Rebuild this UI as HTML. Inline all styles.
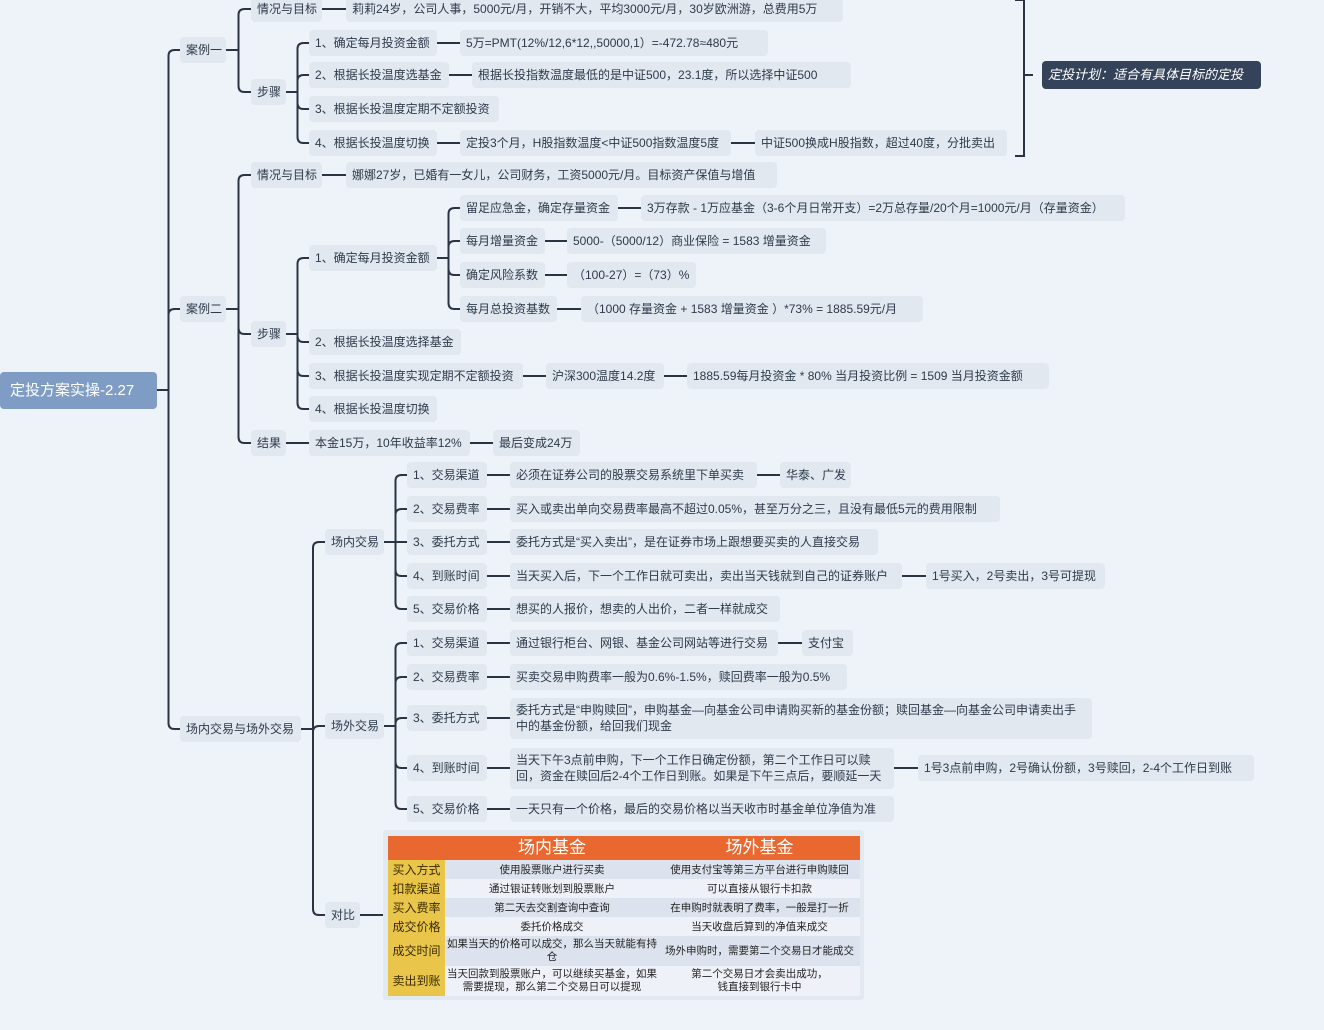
<!DOCTYPE html>
<html><head><meta charset="utf-8">
<style>
html,body{margin:0;padding:0;}
body{width:1324px;height:1030px;background:#edf3f9;position:relative;overflow:hidden;font-family:"Liberation Sans","Noto Sans CJK SC",sans-serif;}
.n{position:absolute;height:26px;line-height:26px;background:#e1e8f0;border-radius:4px;font-size:12px;color:#2d3a4a;white-space:nowrap;box-sizing:border-box;padding:0 6px;}
.m{height:auto;line-height:16px;white-space:normal;padding:4px 6px;}
svg{position:absolute;left:0;top:0;}
table{border-collapse:collapse;}
td{padding:0 2px;}
</style></head><body>
<svg id="s" width="1324" height="1030"></svg>
<div id="root"></div>
<div class="n" style="left:1042px;top:61px;height:28px;line-height:28px;width:219px;background:#34425a;color:#fff;font-style:italic;font-size:13px;">定投计划：适合有具体目标的定投</div>
<div style="position:absolute;left:383px;top:830px;width:481px;height:170px;background:#e3e9f1;border-radius:3px;"></div>
<div style="position:absolute;left:388px;top:836px;width:472px;">
<table style="width:472px;font-size:10.5px;color:#222;text-align:center;table-layout:fixed;">
<tr style="background:#e8682f;color:#fff;font-size:17px;height:24px;line-height:22px;"><td style="width:53px;"></td><td style="width:210px;">场内基金</td><td>场外基金</td></tr>
<tr style="height:19px;background:#dde3ee"><td style="background:#e9c64a;color:#3a2a00;font-size:12px;">买入方式</td><td>使用股票账户进行买卖</td><td>使用支付宝等第三方平台进行申购赎回</td></tr>
<tr style="height:19px;background:#eef1f7"><td style="background:#e9c64a;color:#3a2a00;font-size:12px;">扣款渠道</td><td>通过银证转账划到股票账户</td><td>可以直接从银行卡扣款</td></tr>
<tr style="height:19px;background:#dde3ee"><td style="background:#e9c64a;color:#3a2a00;font-size:12px;">买入费率</td><td>第二天去交割查询中查询</td><td>在申购时就表明了费率，一般是打一折</td></tr>
<tr style="height:19px;background:#eef1f7"><td style="background:#e9c64a;color:#3a2a00;font-size:12px;">成交价格</td><td>委托价格成交</td><td>当天收盘后算到的净值来成交</td></tr>
<tr style="height:30px;background:#dde3ee;line-height:13px"><td style="background:#e9c64a;color:#3a2a00;font-size:12px;">成交时间</td><td>如果当天的价格可以成交，那么当天就能有持仓</td><td>场外申购时，需要第二个交易日才能成交</td></tr>
<tr style="height:30px;background:#eef1f7;line-height:13px"><td style="background:#e9c64a;color:#3a2a00;font-size:12px;">卖出到账</td><td>当天回款到股票账户，可以继续买基金，如果需要提现，那么第二个交易日可以提现</td><td>第二个交易日才会卖出成功，<br>钱直接到银行卡中</td></tr>
</table></div>
<script>
var N=[
['r',null,0,157,390,'定投方案实操-2.27',37],
['a1','r',180,46,50,'案例一'],
['a1q','a1',251,71,9,'情况与目标'],
['a1qt','a1q',346,497,9,'莉莉24岁，公司人事，5000元/月，开销不大，平均3000元/月，30岁欧洲游，总费用5万'],
['a1s','a1',251,35,92,'步骤'],
['s1','a1s',309,128,43,'1、确定每月投资金额'],
['s1t','s1',460,308,43,'5万=PMT(12%/12,6*12,,50000,1）=-472.78≈480元'],
['s2','a1s',309,140,75,'2、根据长投温度选基金'],
['s2t','s2',472,379,75,'根据长投指数温度最低的是中证500，23.1度，所以选择中证500'],
['s3','a1s',309,190,109,'3、根据长投温度定期不定额投资'],
['s4','a1s',309,128,143,'4、根据长投温度切换'],
['s4t','s4',460,271,143,'定投3个月，H股指数温度<中证500指数温度5度'],
['s4u','s4t',755,252,143,'中证500换成H股指数，超过40度，分批卖出'],
['a2','r',180,46,309,'案例二'],
['a2q','a2',251,71,175,'情况与目标'],
['a2qt','a2q',346,431,175,'娜娜27岁，已婚有一女儿，公司财务，工资5000元/月。目标资产保值与增值'],
['a2s','a2',251,35,334,'步骤'],
['b1','a2s',309,128,258,'1、确定每月投资金额'],
['c1','b1',460,158,208,'留足应急金，确定存量资金'],
['c1t','c1',641,484,208,'3万存款 - 1万应基金（3-6个月日常开支）=2万总存量/20个月=1000元/月（存量资金）'],
['c2','b1',460,85,241,'每月增量资金'],
['c2t','c2',567,259,241,'5000-（5000/12）商业保险 = 1583 增量资金'],
['c3','b1',460,85,275,'确定风险系数'],
['c3t','c3',567,129,275,' （100-27）=（73）%'],
['c4','b1',460,97,309,'每月总投资基数'],
['c4t','c4',581,342,309,' （1000 存量资金 + 1583 增量资金 ）*73% = 1885.59元/月'],
['b2','a2s',309,152,342,'2、根据长投温度选择基金'],
['b3','a2s',309,214,376,'3、根据长投温度实现定期不定额投资'],
['b3t','b3',546,118,376,'沪深300温度14.2度'],
['b3u','b3t',687,362,376,'1885.59每月投资金 * 80% 当月投资比例 = 1509 当月投资金额'],
['b4','a2s',309,128,409,'4、根据长投温度切换'],
['a2r','a2',251,35,443,'结果'],
['a2rt','a2r',309,161,443,'本金15万，10年收益率12%'],
['a2ru','a2rt',493,87,443,'最后变成24万'],
['a3','r',180,121,729,'场内交易与场外交易'],
['in','a3',325,59,542,'场内交易'],
['i1','in',407,80,475,'1、交易渠道'],
['i1t','i1',510,247,475,'必须在证券公司的股票交易系统里下单买卖'],
['i1u','i1t',780,71,475,'华泰、广发'],
['i2','in',407,80,509,'2、交易费率'],
['i2t','i2',510,490,509,'买入或卖出单向交易费率最高不超过0.05%，甚至万分之三，且没有最低5元的费用限制'],
['i3','in',407,80,542,'3、委托方式'],
['i3t','i3',510,368,542,'委托方式是“买入卖出”，是在证券市场上跟想要买卖的人直接交易'],
['i4','in',407,80,576,'4、到账时间'],
['i4t','i4',510,392,576,'当天买入后，下一个工作日就可卖出，卖出当天钱就到自己的证券账户'],
['i4u','i4t',926,179,576,'1号买入，2号卖出，3号可提现'],
['i5','in',407,80,609,'5、交易价格'],
['i5t','i5',510,270,609,'想买的人报价，想卖的人出价，二者一样就成交'],
['out','a3',325,59,726,'场外交易'],
['o1','out',407,80,643,'1、交易渠道'],
['o1t','o1',510,268,643,'通过银行柜台、网银、基金公司网站等进行交易'],
['o1u','o1t',802,51,643,'支付宝'],
['o2','out',407,80,677,'2、交易费率'],
['o2t','o2',510,337,677,'买卖交易申购费率一般为0.6%-1.5%，赎回费率一般为0.5%'],
['o3','out',407,80,718,'3、委托方式'],
['o3t','o3',510,582,718,'委托方式是“申购赎回”，申购基金—向基金公司申请购买新的基金份额；赎回基金—向基金公司申请卖出手中的基金份额，给回我们现金',41],
['o4','out',407,80,768,'4、到账时间'],
['o4t','o4',510,384,768,'当天下午3点前申购，下一个工作日确定份额，第二个工作日可以赎回，资金在赎回后2-4个工作日到账。如果是下午三点后，要顺延一天',41],
['o4u','o4t',918,336,768,'1号3点前申购，2号确认份额，3号赎回，2-4个工作日到账'],
['o5','out',407,80,809,'5、交易价格'],
['o5t','o5',510,384,809,'一天只有一个价格，最后的交易价格以当天收市时基金单位净值为准'],
['cmp','a3',325,35,915,'对比']
];
var M={},h='',p='';
N.forEach(function(d){M[d[0]]=d;
 var hh=d[6]||26,top=d[4]-hh/2;
 var st='left:'+d[2]+'px;top:'+top+'px;width:'+d[3]+'px;';
 var cls='n';
 if(d[0]=='r'){st+='height:37px;line-height:37px;background:#7f9cc4;color:#fff;font-size:15px;padding-left:10px;';}
 else if(hh>26){cls+=' m';st+='height:'+hh+'px;';}
 h+='<div class="'+cls+'" style="'+st+'">'+d[5]+'</div>';
});
document.getElementById('root').innerHTML=h;
N.forEach(function(d){ if(!d[1])return; var P=M[d[1]];
 var pr=P[2]+P[3],py=P[4],cx=d[2],cy=d[4];
 var vx=(pr+cx)/2;
 if(Math.abs(cy-py)<2){p+='M'+pr+' '+py+'H'+cx;}
 else{var s=cy>py?1:-1,r=6;
  p+='M'+pr+' '+py+'H'+vx+'V'+(cy-s*r)+'Q'+vx+' '+cy+' '+(vx+r)+' '+cy+'H'+cx;}
});
p+='M360 915H383';
p+='M1015 0H1024V156H1015M1024 75H1033';
document.getElementById('s').innerHTML='<path d="'+p+'" fill="none" stroke="#2b3445" stroke-width="2"/>';
</script>
</body></html>
